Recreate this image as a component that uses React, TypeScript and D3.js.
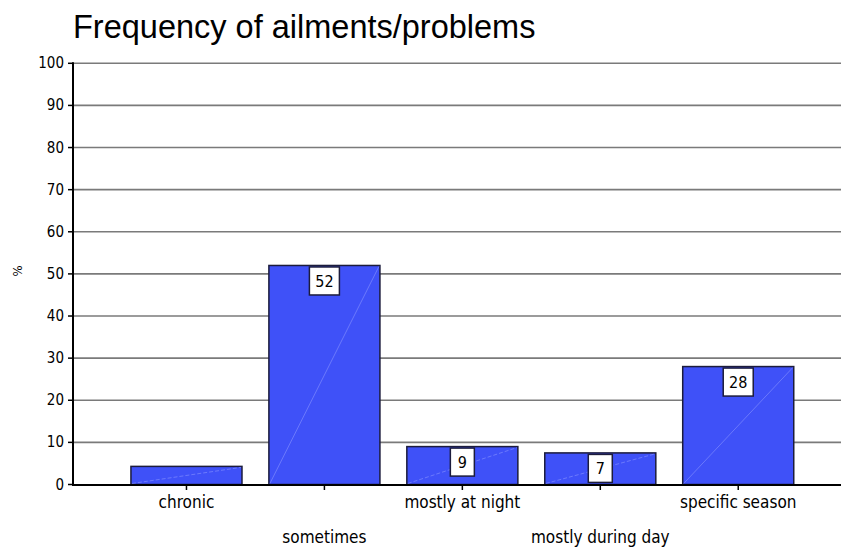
import React from "react";
import * as d3 from "d3";

const categories = ["chronic", "sometimes", "mostly at night", "mostly during day", "specific season"];
const values = [4.3, 52, 9, 7.5, 28];
const valueLabels = ["", "52", "9", "7", "28"];
const yTicks = [0, 10, 20, 30, 40, 50, 60, 70, 80, 90, 100];
const title = "Frequency of ailments/problems";
const yLabel = "%";

const W = 841;
const H = 549;
const COND = "'Liberation Sans Narrow', 'Arial Narrow', 'DejaVu Sans Condensed', sans-serif";

export default function App() {
  const y = d3.scaleLinear().domain([0, 100]).range([484.5, 63.3]);
  const x = d3
    .scaleBand<string>()
    .domain(categories)
    .range([117.5, 807.2])
    .paddingInner(0.195)
    .paddingOuter(0.0975);
  const axisX = 73;
  const bw = x.bandwidth();

  return (
    <svg
      width={W}
      height={H}
      style={{ position: "absolute", left: 0, top: 0, background: "#fff" }}
    >
      <text x={73} y={38} fontFamily="'Liberation Sans', Arial, sans-serif" fontSize={32.5} fill="#000">
        {title}
      </text>
      {/* gridlines */}
      {yTicks.filter((t) => t > 0).map((t) => (
        <line key={"g" + t} x1={axisX} x2={W} y1={y(t)} y2={y(t)} stroke="#7a7a7a" strokeWidth={1.6} />
      ))}
      {/* y ticks */}
      {yTicks.map((t) => (
        <g key={"t" + t}>
          <line x1={axisX - 5} x2={axisX} y1={y(t)} y2={y(t)} stroke="#000" strokeWidth={1.5} />
          <text
            x={64}
            y={y(t) + 5}
            textAnchor="end"
            fontFamily={COND}
            fontSize={15}
            fill="#000"
          >
            {t}
          </text>
        </g>
      ))}
      <text
        transform={`translate(22,271) rotate(-90)`}
        textAnchor="middle"
        fontFamily={COND}
        fontSize={13}
        fill="#000"
      >
        {yLabel}
      </text>
      {/* bars */}
      {categories.map((c, i) => {
        const x0 = x(c)!;
        const yt = y(values[i]);
        const yb = y(0);
        return (
          <g key={c}>
            <rect x={x0} y={yt} width={bw} height={yb - yt} fill="#3F51F8" stroke="#1c1c3c" strokeWidth={1.5} />
            <line
              x1={x0 + 1}
              y1={yb - 1}
              x2={x0 + bw - 1}
              y2={yt + 1}
              stroke="#8e98ff"
              strokeWidth={0.8}
              strokeOpacity={0.7}
              strokeDasharray={values[i] < 15 ? "4 2" : undefined}
            />
          </g>
        );
      })}
      {/* axes */}
      <line x1={axisX} x2={W} y1={485} y2={485} stroke="#000" strokeWidth={2} />
      <line x1={axisX} x2={axisX} y1={y(100) - 1} y2={486} stroke="#000" strokeWidth={2} />
      {categories.map((c, i) => {
        const cx = x(c)! + bw / 2;
        return (
          <g key={"x" + c}>
            <line x1={cx} x2={cx} y1={485} y2={490} stroke="#000" strokeWidth={1.5} />
            <text
              x={cx}
              y={i % 2 === 0 ? 508 : 543}
              textAnchor="middle"
              fontFamily={COND}
              fontSize={17}
              fill="#000"
            >
              {c}
            </text>
          </g>
        );
      })}
      {/* value labels */}
      {categories.map((c, i) => {
        if (!valueLabels[i]) return null;
        const cx = x(c)! + bw / 2;
        const bwid = valueLabels[i].length > 1 ? 30 : 24;
        const top = y(values[i]) + 1.5;
        return (
          <g key={"v" + c}>
            <rect x={cx - bwid / 2} y={top} width={bwid} height={28} fill="#fff" stroke="#1c1c3c" strokeWidth={1.5} />
            <text
              x={cx}
              y={top + 20}
              textAnchor="middle"
              fontFamily={COND}
              fontSize={16}
              fill="#000"
            >
              {valueLabels[i]}
            </text>
          </g>
        );
      })}
    </svg>
  );
}
